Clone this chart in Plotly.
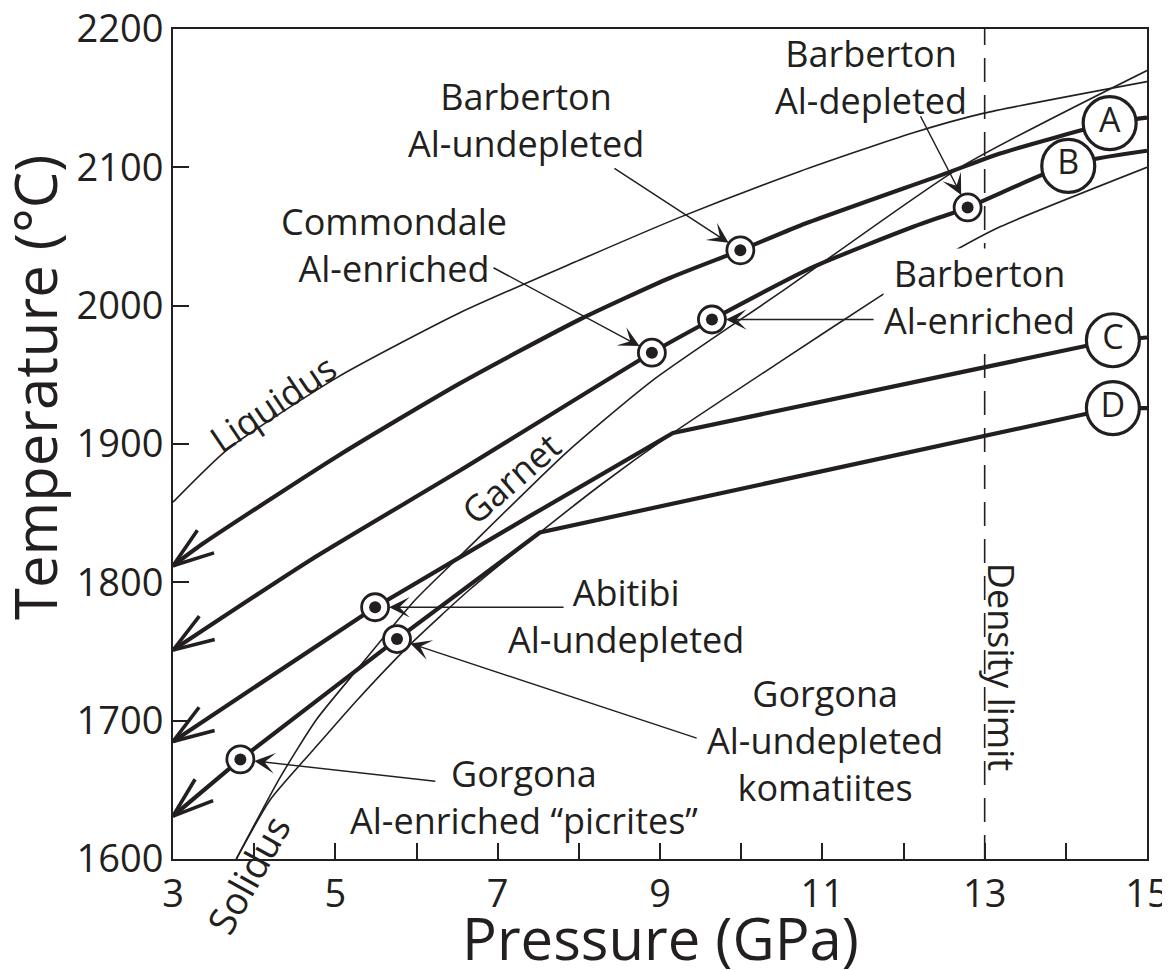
import math
import plotly.graph_objects as go

# ---------------- data ----------------
P_RANGE = [3, 15]
T_RANGE = [1600, 2200]
X_TICKS = list(range(3, 16))
X_TICK_TEXT = [str(v) if v % 2 == 1 else "" for v in X_TICKS]
Y_TICKS = list(range(1600, 2201, 100))
DENSITY_LIMIT = 13

liquidus_P = [3.0, 3.67, 5.02, 6.54, 8.01, 9.25, 10.72, 12.12, 12.98, 15.0]
liquidus_T = [1858, 1896, 1948, 1995, 2033, 2064, 2097, 2125, 2139, 2162]

solidus_P = [3.78, 4.20, 4.73, 5.27, 5.92, 6.66, 7.52, 8.26, 9.16, 10.52, 11.69, 12.49, 13.19, 15.0]
solidus_T = [1600, 1643, 1679, 1715, 1755, 1795, 1836, 1870, 1908, 1961, 2006, 2035, 2057, 2100]

garnet_P = [3.78, 4.32, 4.77, 5.27, 5.98, 6.57, 7.85, 8.91, 10.52, 12.70, 15.0]
garnet_T = [1600, 1659, 1701, 1737, 1787, 1821, 1894, 1946, 2011, 2100, 2170]

pathA_P = [3.0, 3.37, 5.02, 6.54, 8.01, 9.12, 9.99, 10.73, 12.54, 13.19, 14.54, 15.0]
pathA_T = [1812, 1828, 1891, 1944, 1990, 2020, 2040, 2058, 2096, 2110, 2132, 2136]

pathB_P = [3.0, 4.69, 6.54, 8.90, 9.64, 10.89, 12.12, 12.79, 14.03, 15.0]
pathB_T = [1751, 1816, 1881, 1966, 1990, 2028, 2057, 2071, 2102, 2112]

pathC_P = [3.0, 5.49, 7.40, 9.16, 14.58, 15.0]
pathC_T = [1685, 1782, 1848, 1908, 1975, 1977]

pathD_P = [3.0, 3.83, 5.76, 7.52, 14.58, 15.0]
pathD_T = [1631, 1672, 1759, 1836, 1926, 1926]

path_letters = ["A", "B", "C", "D"]
letter_P = [14.54, 14.03, 14.58, 14.58]
letter_T = [2132, 2101, 1975, 1926]

sample_names = [
    "Barberton<br>Al-undepleted",
    "Barberton<br>Al-depleted",
    "Commondale<br>Al-enriched",
    "Barberton<br>Al-enriched",
    "Abitibi<br>Al-undepleted",
    "Gorgona<br>Al-undepleted<br>komatiites",
    "Gorgona<br>Al-enriched \u201cpicrites\u201d",
]
sample_P = [9.99, 12.79, 8.90, 9.64, 5.49, 5.76, 3.83]
sample_T = [2040, 2071, 1966, 1990, 1782, 1759, 1672]

# ---------------- style / layout ----------------
W, H = 1170, 970
PAGE_OFF = 8                       # default <body> margin of the written html page
BOX = dict(x0=173, x1=1147, y0=29, y1=859)   # plot box as seen on the page
ML = BOX["x0"] - PAGE_OFF
MT = BOX["y0"] - PAGE_OFF
MR = W - (BOX["x1"] - PAGE_OFF)
MB = H - (BOX["y1"] - PAGE_OFF)
PW = BOX["x1"] - BOX["x0"]
PH = BOX["y1"] - BOX["y0"]
KX = PW / (P_RANGE[1] - P_RANGE[0])   # px per GPa
KY = PH / (T_RANGE[1] - T_RANGE[0])   # px per degC
INK = "#231f20"
FONT = "Open Sans, Noto Sans, sans-serif"


def paper_x(sx):
    return (sx - BOX["x0"]) / PW


def paper_y(sy):
    return (BOX["y1"] - sy) / PH


fig = go.Figure()


def add_line(xs, ys, width, shape="spline"):
    fig.add_trace(go.Scatter(
        x=xs, y=ys, mode="lines",
        line=dict(color=INK, width=width, shape=shape, smoothing=0.6),
        hoverinfo="skip", showlegend=False))


def add_open_arrow(xs, ys, length=43, half_deg=19, width=3.6):
    # open "V" arrowhead at the first point of a path, oriented along its first segment
    ang = math.atan2((ys[1] - ys[0]) * KY, (xs[1] - xs[0]) * KX)
    h = math.radians(half_deg)
    ax, ay = [], []
    for a in (ang + h, None, ang - h):
        if a is None:
            ax.append(xs[0]); ay.append(ys[0]); continue
        ax.append(xs[0] + length * math.cos(a) / KX)
        ay.append(ys[0] + length * math.sin(a) / KY)
    fig.add_trace(go.Scatter(x=ax, y=ay, mode="lines",
                             line=dict(color=INK, width=width),
                             hoverinfo="skip", showlegend=False))


# thin boundaries
add_line(liquidus_P, liquidus_T, 1.6)
add_line(solidus_P, solidus_T, 1.6)
add_line(garnet_P, garnet_T, 1.6)

# thick melting paths
add_line(pathA_P, pathA_T, 4.2, "spline")
add_line(pathB_P, pathB_T, 4.2, "spline")
add_line(pathC_P, pathC_T, 4.2, "linear")
add_line(pathD_P, pathD_T, 4.2, "linear")
for xs, ys in [(pathA_P, pathA_T), (pathB_P, pathB_T), (pathC_P, pathC_T), (pathD_P, pathD_T)]:
    add_open_arrow(xs, ys)

# lettered end circles
fig.add_trace(go.Scatter(
    x=letter_P, y=letter_T, mode="markers+text", text=path_letters,
    textposition="middle center",
    textfont=dict(family=FONT, size=34, color=INK),
    marker=dict(symbol="circle", size=53, color="white", line=dict(color=INK, width=3.2)),
    hoverinfo="skip", showlegend=False, cliponaxis=False))

# sample points (bull's-eye)
fig.add_trace(go.Scatter(
    x=sample_P, y=sample_T, mode="markers",
    marker=dict(symbol="circle", size=27, color="white", line=dict(color=INK, width=2.8)),
    hoverinfo="skip", showlegend=False))
fig.add_trace(go.Scatter(
    x=sample_P, y=sample_T, mode="markers",
    marker=dict(symbol="circle", size=12, color=INK),
    hoverinfo="skip", showlegend=False))

# density limit
fig.add_shape(type="line", x0=DENSITY_LIMIT, x1=DENSITY_LIMIT, y0=0, y1=1,
              xref="x", yref="paper", line=dict(color=INK, width=1.6, dash="24px,13px"),
              layer="below")

tf = dict(family=FONT, size=36, color=INK)
ann = []

# sample labels: (text index, label position, leader tail)
label_pos = [
    (0, 7.35, 2134, 8.42, 2100),
    (1, 11.60, 2165, 12.20, 2138),
    (2, 5.72, 2044, 6.93, 2028),
    (3, 12.94, 2006, 11.65, 1990),
    (4, 8.58, 1776, 7.83, 1782),
    (5, 11.03, 1686, 9.47, 1687),
    (6, 7.33, 1645, 6.25, 1656),
]
for i, lx, ly, tx, ty in label_pos:
    ann.append(dict(x=lx, y=ly, xref="x", yref="y", text=sample_names[i], showarrow=False,
                    font=tf, align="center", bgcolor="white" if i == 3 else None,
                    borderpad=0))
    ann.append(dict(x=sample_P[i], y=sample_T[i], ax=tx, ay=ty, xref="x", yref="y",
                    axref="x", ayref="y", text="", showarrow=True, arrowhead=3,
                    arrowsize=2.3, arrowwidth=1.5, arrowcolor=INK, standoff=14))

# curve labels
ann.append(dict(x=4.23, y=1929, xref="x", yref="y", text="Liquidus", textangle=-34,
                showarrow=False, font=tf))
ann.append(dict(x=7.16, y=1875, xref="x", yref="y", text="Garnet", textangle=-41,
                showarrow=False, font=tf))
ann.append(dict(x=paper_x(248), y=paper_y(874), xref="paper", yref="paper",
                xanchor="center", yanchor="middle", text="Solidus", textangle=-61,
                showarrow=False, font=dict(family=FONT, size=38, color=INK)))
ann.append(dict(x=13.2, y=1739, xref="x", yref="y", text="Density limit", textangle=90,
                showarrow=False, font=tf))

# axis titles
title_font = dict(family=FONT, size=58, color=INK)
ann.append(dict(x=paper_x(660), y=paper_y(937), xref="paper", yref="paper",
                xanchor="center", yanchor="middle", text="Pressure (GPa)",
                showarrow=False, font=title_font))
ann.append(dict(x=paper_x(34), y=paper_y(388), xref="paper", yref="paper",
                xanchor="center", yanchor="middle", text="Temperature (\u00b0C)",
                textangle=-90, showarrow=False, font=title_font))

axis_common = dict(showline=True, linecolor=INK, linewidth=2, mirror=True,
                   ticks="inside", ticklen=16, tickwidth=1.6, tickcolor=INK,
                   showgrid=False, zeroline=False, automargin=False,
                   ticklabeloverflow="allow",
                   tickfont=dict(family=FONT, size=38, color=INK))

fig.update_layout(
    width=W, height=H,
    margin=dict(l=ML, r=MR, t=MT, b=MB, pad=0, autoexpand=False),
    paper_bgcolor="white", plot_bgcolor="white",
    showlegend=False,
    annotations=ann,
    xaxis=dict(range=P_RANGE, tickvals=X_TICKS, ticktext=X_TICK_TEXT, **axis_common),
    yaxis=dict(range=T_RANGE, tickvals=Y_TICKS, **axis_common),
)

fig.write_html("out.html")
